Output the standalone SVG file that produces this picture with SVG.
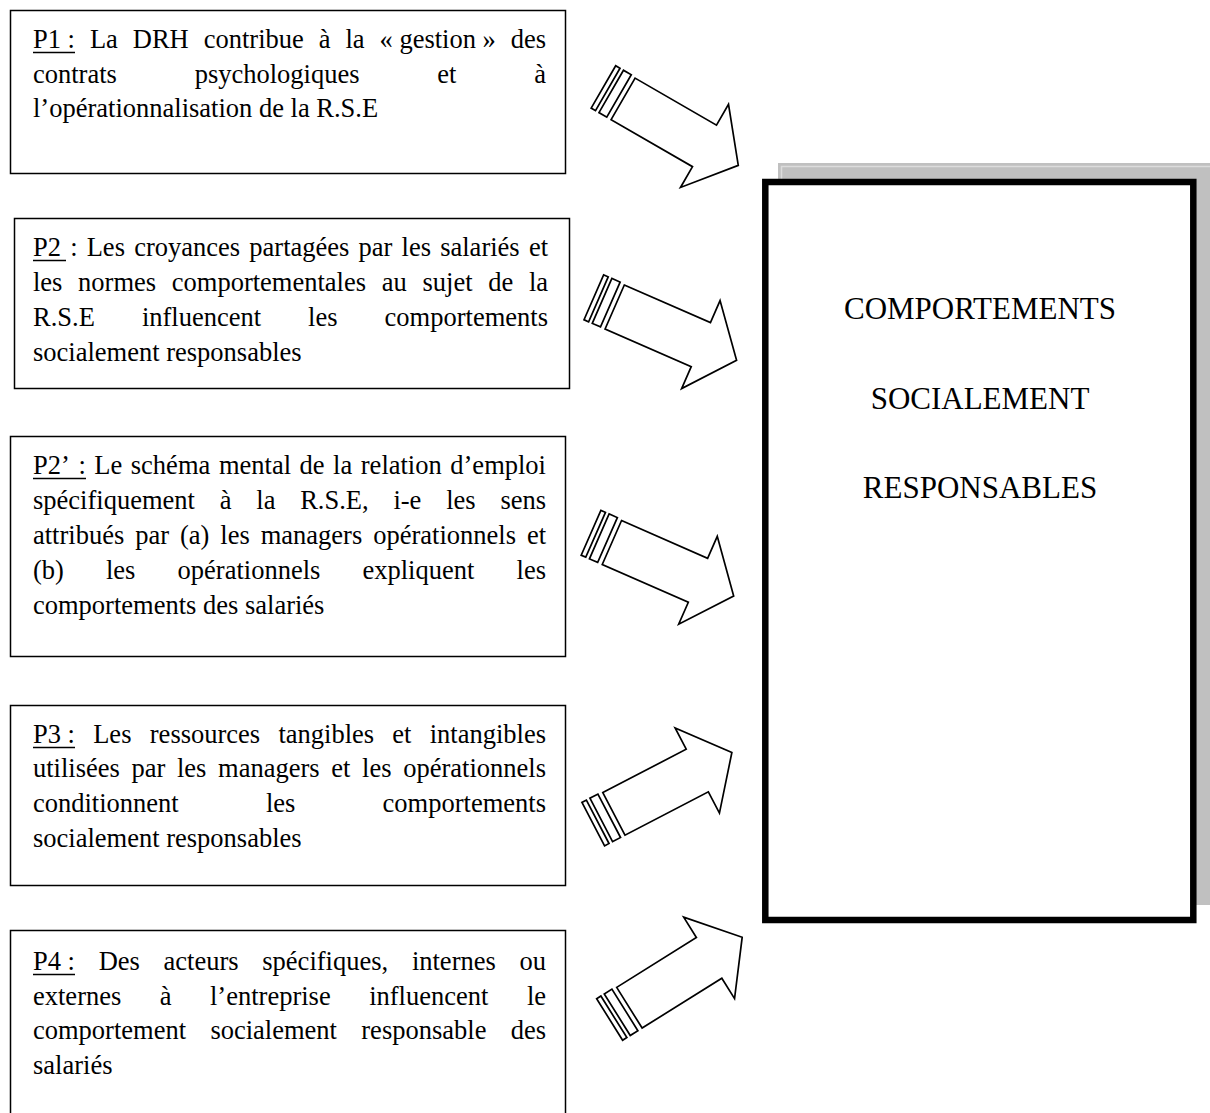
<svg xmlns="http://www.w3.org/2000/svg" xmlns:xlink="http://www.w3.org/1999/xlink" width="1210" height="1113" viewBox="0 0 1210 1113">
<style>
  .box { fill: #ffffff; stroke: #000000; stroke-width: 1.5; }
  .t { font-family: "Liberation Serif", "Times New Roman", serif; font-size: 26.5px; fill: #000000; }
  .big { font-family: "Liberation Serif", "Times New Roman", serif; font-size: 31px; fill: #000000; text-anchor: middle; }
  .ul { stroke: #000000; stroke-width: 1.5; }
  .arr { fill: #ffffff; stroke: #000000; stroke-width: 1.7; stroke-linejoin: miter; }
</style>
<defs>
  <g id="arrow">
    <path class="arr" d="M0,-24 L94,-24 L94,-48 L133,0 L94,48 L94,24 L0,24 Z"/>
    <rect class="arr" x="-14" y="-25" width="9" height="49"/>
    <rect class="arr" x="-23" y="-25" width="5" height="49"/>
  </g>
</defs>
<rect width="1210" height="1113" fill="#ffffff"/>

<g id="target">
  <rect x="778" y="163" width="440" height="742" fill="#c0c0c0"/>
  <path d="M781.5,905 V166.5 H1210" fill="none" stroke="#dcdcdc" stroke-width="1.5"/>
  <rect x="765.3" y="182" width="428" height="738" fill="#ffffff" stroke="#000000" stroke-width="6.5"/>
  <text class="big" x="980" y="319">COMPORTEMENTS</text>
  <text class="big" x="980" y="409">SOCIALEMENT</text>
  <text class="big" x="980" y="498">RESPONSABLES</text>
</g>

<g id="p1">
  <rect class="box" x="10.5" y="10.5" width="555" height="163"/>
  <text class="t" y="48"><tspan x="33">P1 :</tspan><tspan x="89.9">La</tspan><tspan x="132.8">DRH</tspan><tspan x="203.7">contribue</tspan><tspan x="318.7">à</tspan><tspan x="345.4">la</tspan><tspan x="379.5">« gestion »</tspan><tspan x="510.7">des</tspan></text>
  <line class="ul" x1="33" y1="52.5" x2="75" y2="52.5"/>
  <text class="t" y="82.5"><tspan x="33">contrats</tspan><tspan x="194.7">psychologiques</tspan><tspan x="437.3">et</tspan><tspan x="534.2">à</tspan></text>
  <text class="t" x="33" y="117">l’opérationnalisation de la R.S.E</text>
</g>

<g id="p2">
  <rect class="box" x="14.5" y="218.5" width="555" height="170"/>
  <text class="t" y="256"><tspan x="33">P2</tspan><tspan x="70.2">:</tspan><tspan x="86.7">Les</tspan><tspan x="134.2">croyances</tspan><tspan x="249.3">partagées</tspan><tspan x="358.6">par</tspan><tspan x="401.6">les</tspan><tspan x="440.2">salariés</tspan><tspan x="528.9">et</tspan></text>
  <line class="ul" x1="33" y1="260.5" x2="66" y2="260.5"/>
  <text class="t" y="291"><tspan x="33">les</tspan><tspan x="78.1">normes</tspan><tspan x="171.8">comportementales</tspan><tspan x="381.8">au</tspan><tspan x="422.5">sujet</tspan><tspan x="488.2">de</tspan><tspan x="528.9">la</tspan></text>
  <text class="t" y="326"><tspan x="33">R.S.E</tspan><tspan x="141.9">influencent</tspan><tspan x="308.1">les</tspan><tspan x="384.6">comportements</tspan></text>
  <text class="t" x="33" y="361">socialement responsables</text>
</g>

<g id="p2prime">
  <rect class="box" x="10.5" y="436.5" width="555" height="220"/>
  <text class="t" y="474"><tspan x="33">P2’</tspan><tspan x="78.4">:</tspan><tspan x="94.3">Le</tspan><tspan x="130.8">schéma</tspan><tspan x="218.9">mental</tspan><tspan x="299.5">de</tspan><tspan x="333.1">la</tspan><tspan x="360.8">relation</tspan><tspan x="450.3">d’emploi</tspan></text>
  <line class="ul" x1="33" y1="478.5" x2="86" y2="478.5"/>
  <text class="t" y="509"><tspan x="33">spécifiquement</tspan><tspan x="219.7">à</tspan><tspan x="256.3">la</tspan><tspan x="300.2">R.S.E,</tspan><tspan x="393.4">i-e</tspan><tspan x="446.2">les</tspan><tspan x="500.4">sens</tspan></text>
  <text class="t" y="544"><tspan x="33">attribués</tspan><tspan x="135.2">par</tspan><tspan x="180">(a)</tspan><tspan x="220.3">les</tspan><tspan x="260.7">managers</tspan><tspan x="373.2">opérationnels</tspan><tspan x="526.9">et</tspan></text>
  <text class="t" y="579"><tspan x="33">(b)</tspan><tspan x="106">les</tspan><tspan x="177.6">opérationnels</tspan><tspan x="362.5">expliquent</tspan><tspan x="516.6">les</tspan></text>
  <text class="t" x="33" y="614">comportements des salariés</text>
</g>

<g id="p3">
  <rect class="box" x="10.5" y="705.5" width="555" height="180"/>
  <text class="t" y="743"><tspan x="33">P3 :</tspan><tspan x="93.2">Les</tspan><tspan x="149.8">ressources</tspan><tspan x="278.4">tangibles</tspan><tspan x="392.3">et</tspan><tspan x="429.7">intangibles</tspan></text>
  <line class="ul" x1="33" y1="747.5" x2="75" y2="747.5"/>
  <text class="t" y="777"><tspan x="33">utilisées</tspan><tspan x="131.5">par</tspan><tspan x="177">les</tspan><tspan x="218.1">managers</tspan><tspan x="331.3">et</tspan><tspan x="362.1">les</tspan><tspan x="403.2">opérationnels</tspan></text>
  <text class="t" y="812"><tspan x="33">conditionnent</tspan><tspan x="266">les</tspan><tspan x="382.6">comportements</tspan></text>
  <text class="t" x="33" y="847">socialement responsables</text>
</g>

<g id="p4">
  <rect class="box" x="10.5" y="930.5" width="555" height="200"/>
  <text class="t" y="970"><tspan x="33">P4 :</tspan><tspan x="98.7">Des</tspan><tspan x="163.6">acteurs</tspan><tspan x="262.3">spécifiques,</tspan><tspan x="411.9">internes</tspan><tspan x="519.5">ou</tspan></text>
  <line class="ul" x1="33" y1="974.5" x2="75" y2="974.5"/>
  <text class="t" y="1005"><tspan x="33">externes</tspan><tspan x="159.8">à</tspan><tspan x="210">l’entreprise</tspan><tspan x="369.2">influencent</tspan><tspan x="526.9">le</tspan></text>
  <text class="t" y="1039"><tspan x="33">comportement</tspan><tspan x="210.4">socialement</tspan><tspan x="361.3">responsable</tspan><tspan x="510.7">des</tspan></text>
  <text class="t" x="33" y="1074">salariés</text>
</g>

<g id="connectors">
  <use xlink:href="#arrow" href="#arrow" transform="translate(623.1,98.9) rotate(30)"/>
  <use xlink:href="#arrow" href="#arrow" transform="translate(614.7,307) rotate(23.6)"/>
  <use xlink:href="#arrow" href="#arrow" transform="translate(611.9,542.5) rotate(23.7)"/>
  <use xlink:href="#arrow" href="#arrow" transform="translate(613.9,813.9) rotate(-27.5)"/>
  <use xlink:href="#arrow" href="#arrow" transform="translate(629.4,1007.7) rotate(-32)"/>
</g>
</svg>
